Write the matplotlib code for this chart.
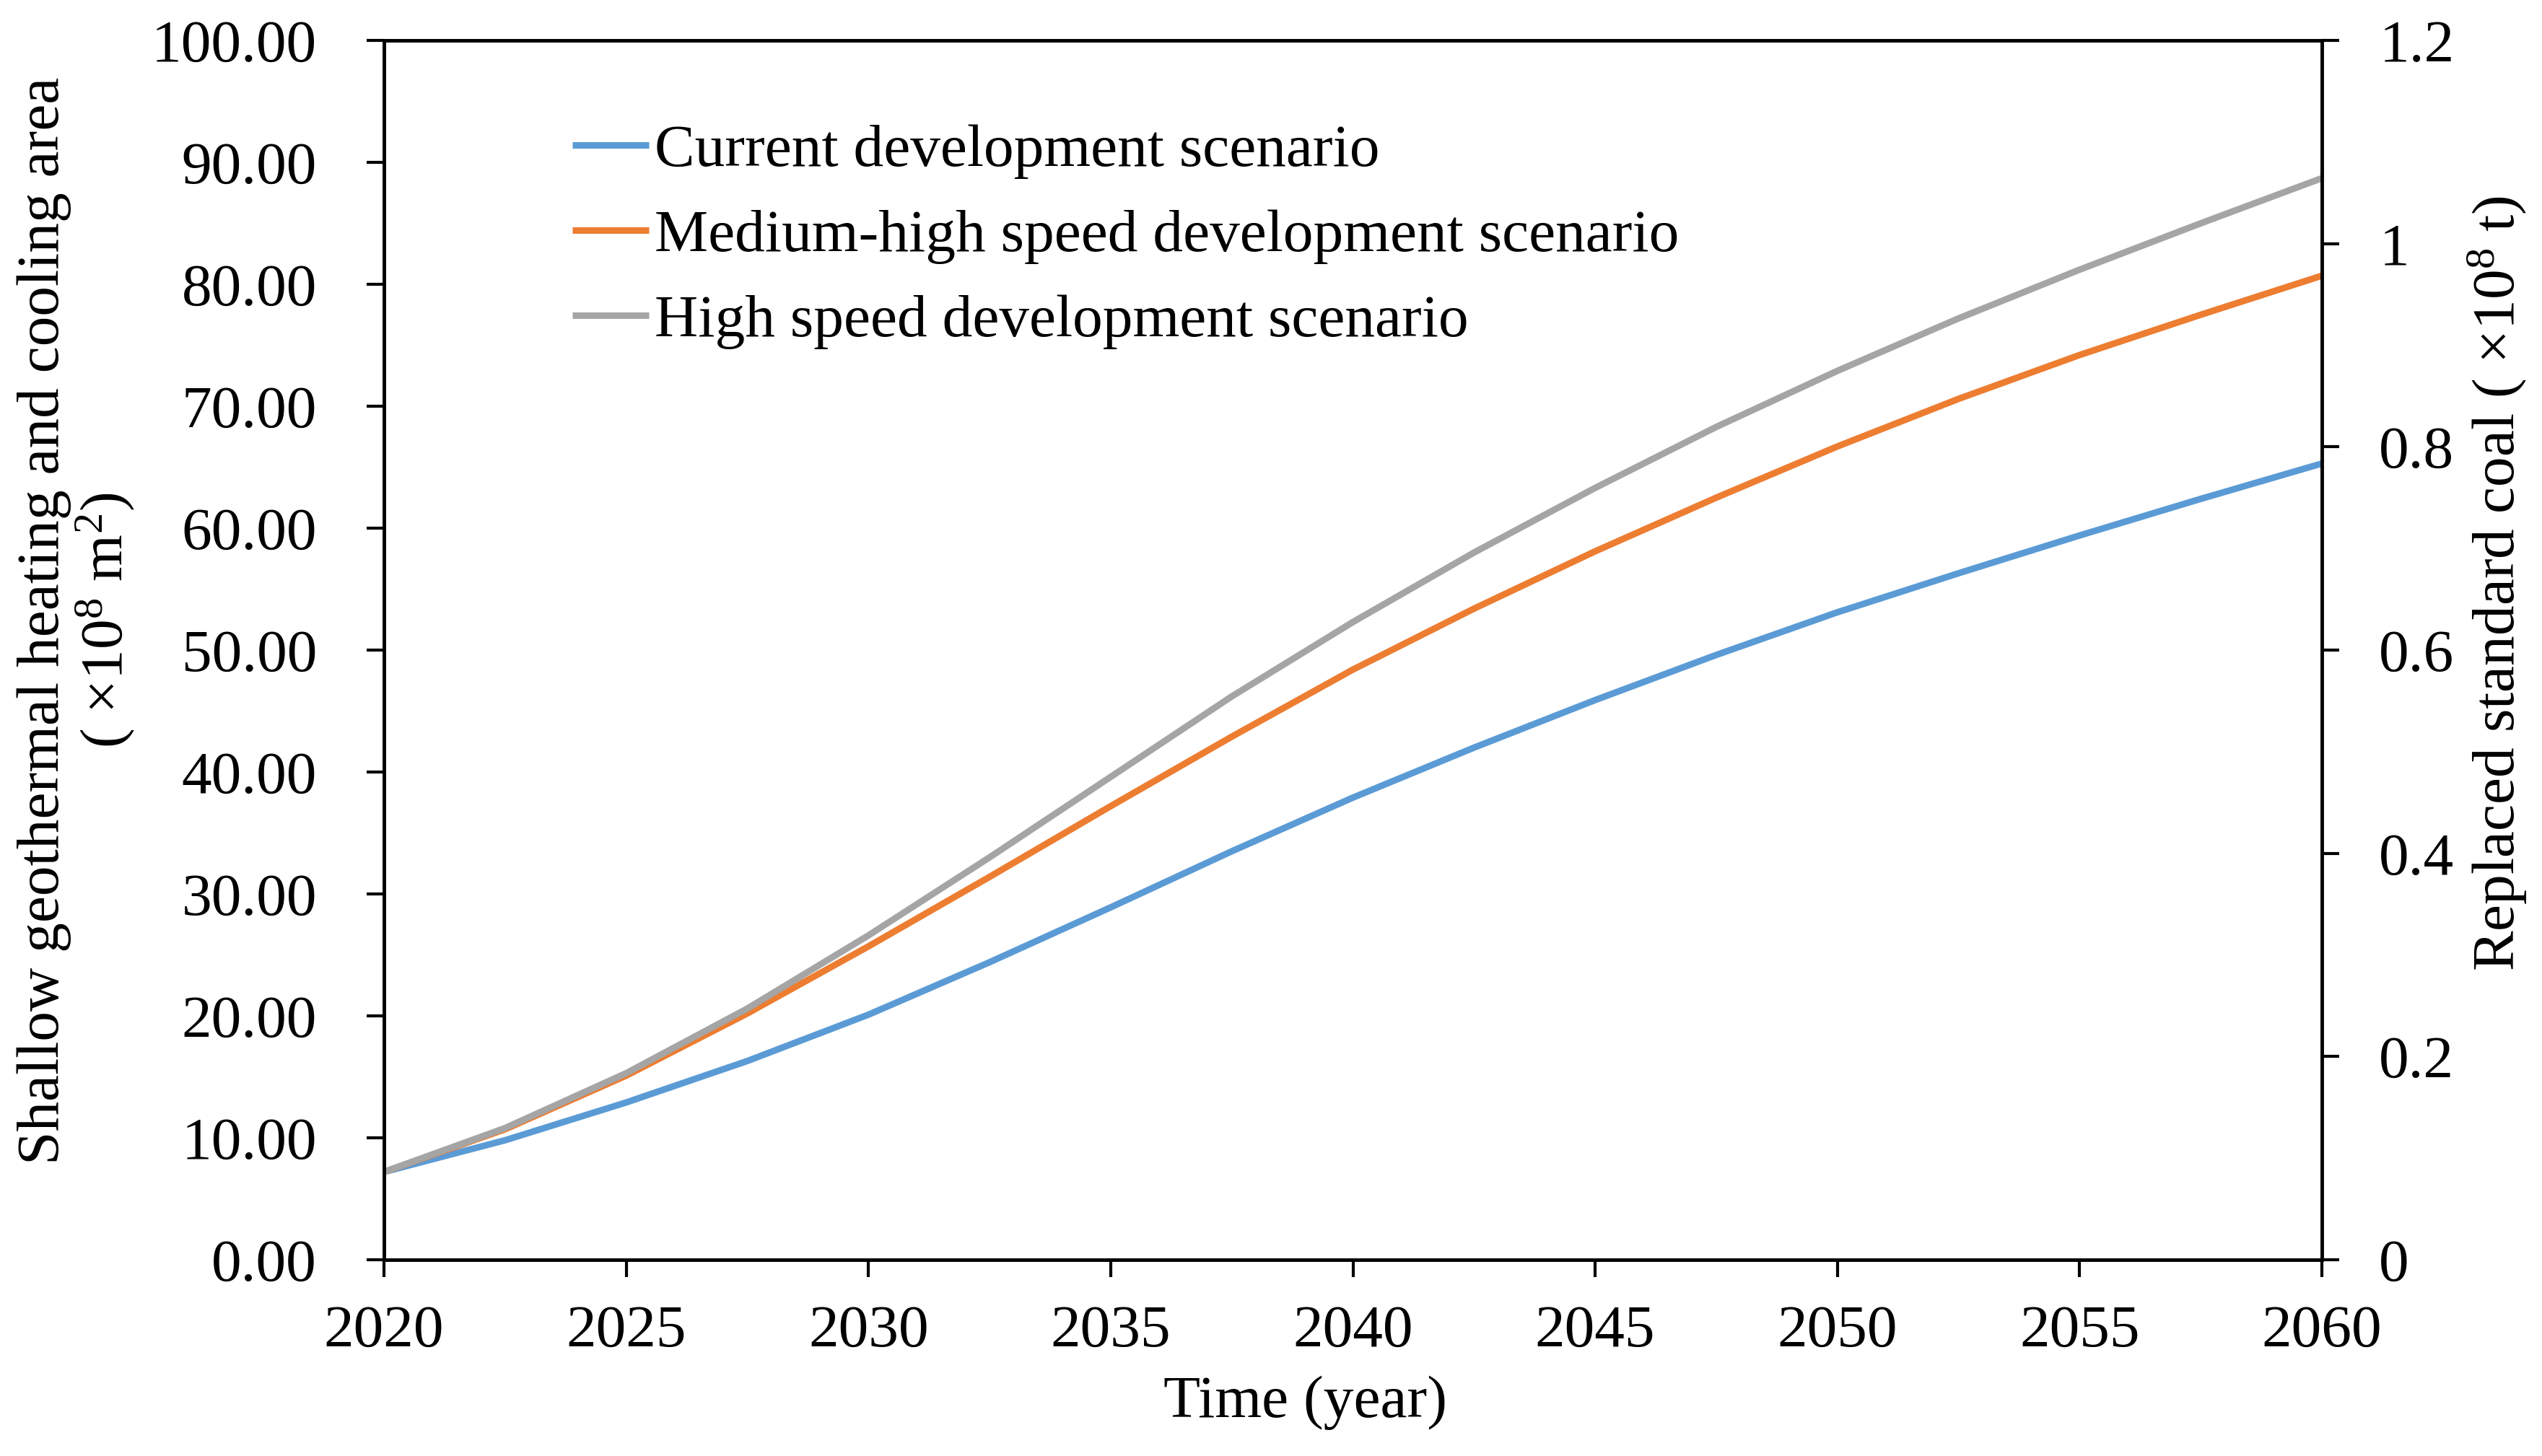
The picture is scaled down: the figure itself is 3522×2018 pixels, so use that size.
import numpy as np
import matplotlib
matplotlib.use('Agg')
import matplotlib.pyplot as plt

plt.rcParams['font.family'] = ['Liberation Serif', 'DejaVu Serif']
plt.rcParams['mathtext.fontset'] = 'custom'
plt.rcParams['mathtext.rm'] = 'Liberation Serif'
plt.rcParams['mathtext.it'] = 'Liberation Serif:italic'

# values (area, x10^8 m^2), every 2.5 years
years = [2020, 2022.5, 2025, 2027.5, 2030, 2032.5, 2035, 2037.5, 2040,
         2042.5, 2045, 2047.5, 2050, 2052.5, 2055, 2057.5, 2060]
current = [7.2, 9.8, 12.9, 16.3, 20.1, 24.4, 28.9, 33.5, 37.9,
           42.0, 45.9, 49.6, 53.1, 56.3, 59.4, 62.4, 65.3]
medium_high = [7.2, 10.7, 15.1, 20.2, 25.7, 31.4, 37.2, 42.9, 48.4,
               53.4, 58.1, 62.5, 66.7, 70.6, 74.2, 77.5, 80.7]
high = [7.2, 10.8, 15.3, 20.6, 26.6, 33.0, 39.6, 46.2, 52.3,
        58.0, 63.3, 68.3, 72.9, 77.2, 81.2, 85.0, 88.7]

labels = ['Current development scenario',
          'Medium-high speed development scenario',
          'High speed development scenario']
colors = ['#5B9BD5', '#ED7D31', '#A5A5A5']

left_ticks = np.arange(0, 101, 10)
right_ticks = [0, 0.2, 0.4, 0.6, 0.8, 1, 1.2]
right_labels = ['0', '0.2', '0.4', '0.6', '0.8', '1', '1.2']
x_ticks = np.arange(2020, 2061, 5)

fs = 60
fig = plt.figure(figsize=(35.23, 20.18), dpi=100)
ax = fig.add_axes([532/3523, 1-1746/2018, (3217-532)/3523, (1746-56)/2018])

for ys, lab, c in zip([current, medium_high, high], labels, colors):
    ax.plot(years, ys, color=c, lw=6.5, label=lab, solid_capstyle='butt')

ax.set_xlim(2020, 2060)
ax.set_ylim(0, 100)
ax.set_xticks(x_ticks)
ax.set_yticks(left_ticks)
ax.set_yticklabels(['%.2f' % v for v in left_ticks])

for s in ax.spines.values():
    s.set_linewidth(3.3)

ax.tick_params(axis='x', direction='out', length=17, width=3, labelsize=fs, pad=28)
ax.tick_params(axis='y', direction='out', length=17, width=3, labelsize=fs, pad=50)

ax2 = ax.twinx()
ax2.set_ylim(0, 1.2)
ax2.set_yticks(right_ticks)
ax2.set_yticklabels(right_labels)
ax2.tick_params(axis='y', direction='out', length=17, width=3, labelsize=fs, pad=40)
for s in ax2.spines.values():
    s.set_linewidth(3.3)

ax.set_xlabel('Time (year)', fontsize=fs, va='center')
ax.xaxis.set_label_coords((1809-532)/2685, (1746-1944)/1690)

ax.set_ylabel('Shallow geothermal heating and cooling area\n( ×10$^{8}$ m$^{2}$)',
              fontsize=fs, va='center', multialignment='center', linespacing=1.05)
ax.yaxis.set_label_coords((106-532)/2685, (1746-860)/1690)

ax2.set_ylabel('Replaced standard coal ( ×10$^{8}$ t)', fontsize=fs, va='center')
ax2.yaxis.set_label_coords((3460-532)/2685, (1746-809)/1690)

ax.legend(loc='upper left', bbox_to_anchor=((793-532)/2685, (1746-172)/1690),
          frameon=False, fontsize=fs, handlelength=1.27, handletextpad=0.1,
          labelspacing=0.5, borderpad=0, borderaxespad=0)

fig.savefig('out.png', dpi=100)
